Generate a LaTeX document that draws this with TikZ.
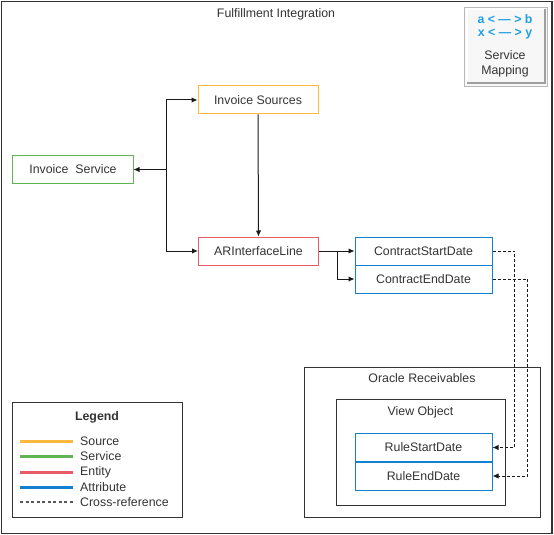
\documentclass[tikz,border=0pt]{standalone}
\usepackage{fontspec}
\setmainfont{Liberation Sans}
\usetikzlibrary{arrows.meta}

\definecolor{srcorange}{RGB}{255,185,60}
\definecolor{svcgreen}{RGB}{96,180,84}
\definecolor{entred}{RGB}{232,92,104}
\definecolor{attrblue}{RGB}{20,128,208}
\definecolor{mapblue}{RGB}{30,160,225}
\definecolor{inkgray}{RGB}{51,51,51}

\begin{document}
\begin{tikzpicture}[x=1bp, y=-1bp,
  every node/.style={font=\fontsize{12.4}{14}\selectfont, text=inkgray},
  box/.style={draw, line width=1bp, minimum width=120bp, minimum height=28bp, inner sep=0pt},
  attr/.style={box, draw=attrblue, minimum width=137bp},
  link/.style={line width=1bp, draw=black!90, -{Latex[length=6bp,width=5.5bp]}},
  xref/.style={link, dash pattern=on 3bp off 2bp},
  legline/.style={line width=3bp},
  legtext/.style={anchor=west, inner sep=0pt}]

\useasboundingbox (0,0) rectangle (554,535);

% Outer frame and title
\draw[line width=1.3bp, black!80] (1.5,1.5) rectangle (552,533.5);
\node (title) at (276,14) {Fulfillment Integration};

% Service mapping badge (top right)
\draw[gray!55, fill=gray!6] (464,7) rectangle (547,86);
\draw[white, line width=2bp] (466.5,84) -- (466.5,9.5) -- (544.5,9.5);
\draw[gray!75, line width=2bp] (466.5,83.5) -- (544.5,83.5) -- (544.5,9.5);
\node[text=mapblue, font=\fontsize{12.4}{14}\selectfont\bfseries] (mapab) at (505,19) {a < --- > b};
\node[text=mapblue, font=\fontsize{12.4}{14}\selectfont\bfseries] (mapxy) at (505,34) {x < --- > y};
\node (mapsvc) at (505,55) {Service};
\node (mapmap) at (505,71) {Mapping};

% Source, service and entity
\node[box, draw=srcorange] (sources) at (258,100) {Invoice\ Sources};
\node[box, draw=svcgreen] (service) at (73,169.5) {Invoice\ \ Service};
\node[box, draw=entred] (arline) at (258.5,251) {ARInterfaceLine};

% Attributes of the entity
\node[attr] (cstart) at (423.5,251) {ContractStartDate};
\node[attr] (cend) at (423.5,279) {ContractEndDate};

% Oracle Receivables with its view object
\draw[line width=1bp, black!80] (304,367) rectangle (540,517);
\node (oracle) at (422,378) {Oracle Receivables};
\draw[line width=1bp, black!80] (336,399) rectangle (505,505);
\node (viewobj) at (420.5,412) {View Object};
\node[attr] (rstart) at (423.5,447.5) {RuleStartDate};
\node[attr] (rend) at (423.5,476) {RuleEndDate};

% Connectors
\coordinate (split) at (166,169.5);
\coordinate (fork) at (337,251);
\draw[link] (sources.south) -- (arline.north);
\draw[link] (split) |- (sources.west);
\draw[link] (split) |- (arline.west);
\draw[link] (split) -- (service.east);
\draw[line width=1bp, black!90] (arline.east) -- (fork);
\draw[link] (fork) -- (cstart.west);
\draw[link] (fork) |- (cend.west);

% Cross-references
\draw[xref] (cstart.east) -- ++(22,0) |- (rstart.east);
\draw[xref] (cend.east) -- ++(35,0) |- (rend.east);

% Legend
\draw[line width=1bp, black!80] (12,402) rectangle (182,517);
\node[font=\fontsize{12.4}{14}\selectfont\bfseries] (legend) at (97,417) {Legend};
\draw[legline, srcorange] (20,441) -- (73,441);
\node[legtext] (lsource) at (80,441) {Source};
\draw[legline, svcgreen] (20,456) -- (73,456);
\node[legtext] (lservice) at (80,456) {Service};
\draw[legline, entred] (20,472) -- (73,472);
\node[legtext] (lentity) at (80,472) {Entity};
\draw[legline, attrblue] (20,487) -- (73,487);
\node[legtext] (lattr) at (80,487) {Attribute};
\draw[black!65, line width=1.2bp, dash pattern=on 3bp off 2.5bp] (20,502) -- (73,502);
\node[legtext] (lxref) at (80,502) {Cross-reference};

\end{tikzpicture}
\end{document}
